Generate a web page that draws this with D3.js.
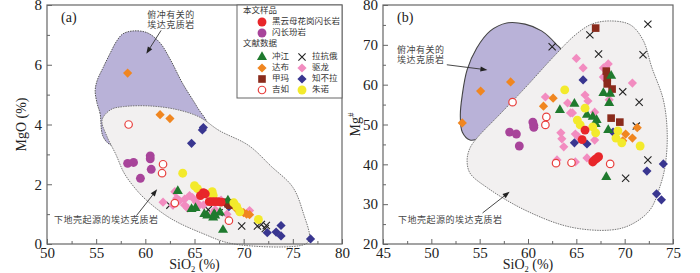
<!DOCTYPE html>
<meta charset="utf-8">
<style>
body { margin: 0; background: #fff; }
.tick text, .num { font: 15px "Liberation Serif", "Times New Roman", serif; fill: #222; }
.title { font: 14px "Liberation Serif", "Times New Roman", serif; fill: #222; }
.cn { font: 9px "Noto Sans CJK SC", sans-serif; fill: #444; letter-spacing: 0.5px; }
.leg { font: 8.5px "Noto Sans CJK SC", sans-serif; fill: #333; }
</style>
<svg width="700" height="273"></svg>
<script src="https://d3js.org/d3.v7.min.js"></script>
<script>

// ---- data: panel (a) SiO2 vs MgO ----
var a_red = [[65.6,1.62],[65.9,1.72],[66.1,1.68],[66.5,1.42],[66.8,1.42],[67.1,1.42],[67.4,1.42],[67.7,1.4]];
var a_mag = [[58.2,2.7],[58.8,2.73],[60.5,2.95],[60.5,2.85],[60.6,2.5],[59.5,2.2]];
var a_green = [[63.3,1.77],[64.7,1.17],[65.1,1.2],[66.0,1.0],[66.3,0.95],[66.9,0.88],[67.1,0.95],[67.6,1.05],[67.9,0.47],[68.4,1.45],[67.0,1.0]];
var a_orange = [[58.2,5.72],[61.5,4.33],[62.5,4.2],[69.2,1.2],[69.6,1.12],[70.0,1.05],[70.3,1.0],[70.6,0.98]];
var a_brown = [[68.1,1.4],[68.4,1.35],[68.6,1.3],[68.8,1.38]];
var a_open = [[58.3,4.0],[61.8,2.67],[61.7,2.37],[63.0,1.37],[68.5,0.78]];
var a_x = [[62.5,1.3],[66.4,1.15],[67.5,1.05],[69.8,0.6],[71.4,0.6],[71.8,0.65],[72.3,0.62],[72.2,0.52]];
var a_pink = [[61.8,1.4],[63.0,1.75],[63.2,1.53],[63.5,1.45],[64.0,1.5],[64.3,1.2],[64.5,1.62],[64.8,1.55],[65.2,1.4],[65.5,1.3],[65.9,1.3],[66.9,1.05],[67.1,1.15],[67.7,1.47],[68.3,1.0],[70.6,1.12],[62.8,1.3],[64.0,1.3]];
var a_navy = [[65.9,3.9],[65.8,3.82],[64.7,3.37],[68.5,1.25],[72.4,0.38],[73.3,0.4],[73.8,0.62],[73.8,0.27],[76.8,0.17]];
var a_yellow = [[63.8,2.37],[65.0,1.95],[65.3,1.85],[66.8,1.75],[66.9,1.63],[69.0,1.38],[69.3,1.25],[69.6,1.08],[71.5,0.82]];

// fields (a)
var a_subd = [[55.7,3.6],[55.4,4.37],[55.1,4.7],[54.9,5.13],[55.1,5.47],[55.7,5.9],[56.4,6.37],[57.1,6.8],[57.7,7.03],[58.7,7.13],[60.2,7.07],[61.5,6.73],[62.5,6.2],[63.8,5.37],[65.3,4.57],[66.3,3.97],[65,3.5],[60,3.4],[56.6,3.3]];
var a_lc = [[55.6,4.15],[56.5,4.5],[57.8,4.6],[60.5,4.62],[63.2,4.5],[65.5,4.25],[67.5,3.8],[70.5,3.3],[72.8,2.6],[75.0,1.9],[76.1,1.0],[76.7,0.2],[76.3,0.0],[69,0.0],[65.7,0.37],[62.5,0.87],[60.0,1.5],[58.7,1.97],[57.8,2.4],[57.0,3.0],[56.1,3.6]];

// ---- data: panel (b) SiO2 vs Mg# ----
var b_red = [[65.9,48.6],[65.6,46.2],[66.7,40.6],[66.9,41.1],[67.1,41.5],[67.3,41.9]];
var b_mag = [[60.5,50.6],[60.6,49.8],[60.6,49.3],[58.1,48.1],[58.8,47.6],[59.1,44.6]];
var b_green = [[63.3,53.6],[64.8,55.2],[66.1,52.4],[66.7,51.9],[67.1,51.1],[67.0,50.1],[68.3,48.6],[68.1,36.8],[68.6,62.2],[67.8,57.9],[68.5,57.7],[68.4,55.4]];
var b_orange = [[53.2,50.4],[55.1,58.4],[58.2,60.7],[62.6,56.6],[61.6,54.6],[70.1,47.6],[70.8,46.6],[69.8,45.9],[71.3,49.2]];
var b_brown = [[67.0,74.2],[68.1,63.4],[68.2,61.7],[68.2,60.2],[68.7,58.9],[68.6,51.6],[69.5,50.6]];
var b_open = [[58.4,55.6],[61.9,51.9],[61.8,49.9],[62.9,40.3],[64.5,40.4],[68.5,40.1]];
var b_x = [[62.5,69.5],[66.4,72.5],[72.4,75.2],[67.3,67.7],[71.9,67.5],[69.8,58.2],[71.5,55.6],[71.2,49.6],[72.4,41.1],[70.1,36.5]];
var b_pink = [[61.8,56.9],[64.1,55.4],[64.4,52.9],[63.4,47.9],[63.5,46.4],[63.7,44.4],[63.0,41.1],[65.0,66.6],[65.7,64.2],[68.3,65.2],[67.8,64.2],[67.8,61.9],[70.8,60.4],[65.9,57.4],[66.2,55.9],[68.4,56.2],[64.6,52.9],[66.9,53.1],[64.9,47.6],[65.2,46.9],[66.9,46.1],[66.1,41.6],[64.9,40.6]];
var b_navy = [[65.7,61.2],[64.8,45.4],[66.1,45.1],[68.8,48.1],[74.0,40.1],[72.3,38.3],[73.3,32.6],[73.8,31.1]];
var b_yellow = [[63.8,58.7],[65.9,54.1],[65.1,51.1],[65.4,49.9],[66.7,49.4],[67.0,47.9],[69.3,48.4],[69.1,46.6],[69.7,45.4],[71.6,44.6]];

// fields (b)
var b_subd = [[57.8,75.5],[59.7,75.2],[61.4,73.5],[62.9,70.2],[63.5,68.2],[60.2,56.2],[55.0,46.6],[54.0,46.1],[53.2,48.1],[53.0,52.4],[53.2,57.4],[53.7,63.7],[54.7,69.2],[56.1,73.5]];
var b_lc = [[54.72,46.6],[57.1,52.6],[59.7,59.2],[62.6,66.9],[64.9,72.5],[66.6,75.2],[68.5,76.0],[70.6,75.0],[71.9,71.2],[72.8,64.4],[74.0,56.2],[74.4,47.9],[74.2,39.8],[73.7,34.8],[72.6,28.5],[70.6,24.8],[68.5,23.5],[64.3,24.3],[59.7,28.5],[55.8,34.1],[54.0,37.8],[53.7,41.1],[54.0,44.1]];

var legendGroups = [
  {name: "黑云母花岗闪长岩", key: "red"}, {name: "闪长玢岩", key: "mag"},
  {name: "冲江", key: "green"}, {name: "拉抗俄", key: "x"},
  {name: "达布", key: "orange"}, {name: "驱龙", key: "pink"},
  {name: "甲玛", key: "brown"}, {name: "知不拉", key: "navy"},
  {name: "吉如", key: "open"}, {name: "朱诺", key: "yellow"}
];

var style = {
  red:    {shape: "circle", fill: "#e8262a"},
  mag:    {shape: "circle", fill: "#a8449a"},
  green:  {shape: "triangle", fill: "#1f7a2e"},
  orange: {shape: "diamond", fill: "#f08620"},
  brown:  {shape: "square", fill: "#8a2b1c"},
  open:   {shape: "open", fill: "#fff", stroke: "#e8403e"},
  x:      {shape: "x", stroke: "#222"},
  pink:   {shape: "diamond", fill: "#f28cc0"},
  navy:   {shape: "diamond", fill: "#393690"},
  yellow: {shape: "circle", fill: "#f3ea2c"}
};

var svg = d3.select("svg");

function symbolPath(shape) {
  if (shape === "circle" || shape === "open") return d3.symbol(d3.symbolCircle, 62)();
  if (shape === "triangle") return d3.symbol(d3.symbolTriangle, 44)();
  if (shape === "square") return d3.symbol(d3.symbolSquare, 58)();
  if (shape === "diamond") return "M0,-4.6L4.6,0L0,4.6L-4.6,0Z";
  return "M-3.6,-3.6L3.6,3.6M-3.6,3.6L3.6,-3.6";
}

function drawMark(g, key, x, y) {
  var s = style[key];
  var p = g.append("path").attr("d", symbolPath(s.shape))
    .attr("transform", "translate(" + x + "," + y + ")");
  if (s.shape === "x") p.attr("fill", "none").attr("stroke", s.stroke).attr("stroke-width", 1.1);
  else if (s.shape === "open") p.attr("d", d3.symbol(d3.symbolCircle, 44)()).attr("fill", "#fff").attr("stroke", s.stroke).attr("stroke-width", 1.2);
  else p.attr("fill", s.fill);
}

function panel(opt) {
  var x = opt.x, y = opt.y;
  var g = svg.append("g");

  var area = d3.line().x(function(d) { return x(d[0]); }).y(function(d) { return y(d[1]); })
    .curve(d3.curveCatmullRomClosed.alpha(0.5));

  g.append("path").datum(opt.subd).attr("d", area)
    .attr("fill", "#b9b2d8").attr("stroke", opt.subdStroke)
    .attr("stroke-width", opt.subdDash ? 1 : 1.1)
    .attr("stroke-dasharray", opt.subdDash ? "1.5,1" : null);
  g.append("path").datum(opt.lc).attr("d", area)
    .attr("fill", "#f2f0f0").attr("stroke", "#777")
    .attr("stroke-width", 1).attr("stroke-dasharray", "1.5,1");

  // points, drawn back to front
  var order = ["x", "pink", "navy", "orange", "brown", "green", "yellow", "open", "mag", "red"];
  order.forEach(function(k) {
    opt.data[k].forEach(function(d) { drawMark(g, k, x(d[0]), y(d[1])); });
  });

  // frame
  var x0 = x.range()[0], x1 = x.range()[1], y0 = y.range()[1], y1 = y.range()[0];
  g.append("rect").attr("x", x0).attr("y", y0).attr("width", x1 - x0).attr("height", y1 - y0)
    .attr("fill", "none").attr("stroke", "#666").attr("stroke-width", 1.2);

  // axes with inward ticks
  g.append("g").attr("transform", "translate(0," + y1 + ")")
    .call(d3.axisBottom(x).tickValues(opt.xTicks).tickSizeInner(-5).tickSizeOuter(0).tickPadding(3));
  g.append("g").attr("transform", "translate(0," + y1 + ")")
    .call(d3.axisBottom(x).tickValues(opt.xMinor).tickSizeInner(-3).tickSizeOuter(0).tickFormat(""));
  g.append("g").attr("transform", "translate(" + x0 + ",0)")
    .call(d3.axisLeft(y).tickValues(opt.yTicks).tickSizeInner(-5).tickSizeOuter(0).tickPadding(5));
  g.append("g").attr("transform", "translate(" + x0 + ",0)")
    .call(d3.axisLeft(y).tickValues(opt.yMinor).tickSizeInner(-3).tickSizeOuter(0).tickFormat(""));
  g.selectAll(".domain").remove();
  g.selectAll(".tick line").attr("stroke", "#666");

  // x title
  var xt = g.append("text").attr("class", "title").attr("text-anchor", "middle")
    .attr("x", (x0 + x1) / 2).attr("y", 269);
  xt.append("tspan").text("SiO");
  xt.append("tspan").text("2").attr("font-size", "8.5px").attr("dy", 2.5);
  xt.append("tspan").text(" (%)").attr("dy", -2.5);

  // y title
  var yt = g.append("text").attr("class", "title").attr("text-anchor", "middle")
    .attr("transform", "translate(" + opt.yTitleX + "," + ((y0 + y1) / 2) + ") rotate(-90)");
  opt.yTitle(yt);

  g.append("text").attr("class", "num").style("font-size", "14px")
    .attr("x", x0 + 14).attr("y", 22).text(opt.label);

  // annotations
  opt.notes.forEach(function(n) {
    n.lines.forEach(function(t, i) {
      g.append("text").attr("class", "cn").attr("x", x(n.at[0])).attr("y", y(n.at[1]) + i * 10)
        .attr("dominant-baseline", "middle").text(t);
    });
    var p0 = [x(n.from[0]), y(n.from[1])], p1 = [x(n.to[0]), y(n.to[1])];
    var ang = Math.atan2(p1[1] - p0[1], p1[0] - p0[0]);
    g.append("line").attr("x1", p0[0]).attr("y1", p0[1])
      .attr("x2", p1[0] - 5 * Math.cos(ang)).attr("y2", p1[1] - 5 * Math.sin(ang))
      .attr("stroke", "#333").attr("stroke-width", 0.9);
    g.append("path").attr("d", "M0,0L-7,-2.6L-7,2.6Z").attr("fill", "#222")
      .attr("transform", "translate(" + p1[0] + "," + p1[1] + ") rotate(" + (ang * 180 / Math.PI) + ")");
  });
  return g;
}

var xa = d3.scaleLinear().domain([50, 80]).range([47, 342]);
var ya = d3.scaleLinear().domain([0, 8]).range([244, 5]);
var xb = d3.scaleLinear().domain([45, 75]).range([383, 673]);
var yb = d3.scaleLinear().domain([20, 80]).range([244, 5]);

panel({
  x: xa, y: ya, label: "(a)",
  subd: a_subd, lc: a_lc, subdStroke: "#555", subdDash: true,
  data: {red: a_red, mag: a_mag, green: a_green, orange: a_orange, brown: a_brown, open: a_open, x: a_x, pink: a_pink, navy: a_navy, yellow: a_yellow},
  xTicks: [50, 55, 60, 65, 70, 75, 80], xMinor: [52.5, 57.5, 62.5, 67.5, 72.5, 77.5],
  yTicks: [0, 2, 4, 6, 8], yMinor: [1, 3, 5, 7],
  yTitleX: 26,
  yTitle: function(t) { t.text("MgO (%)"); },
  notes: [
    {lines: ["俯冲有关的", "埃达克质岩"], at: [60.2, 7.65], from: [61.6, 7.15], to: [60.1, 6.37]},
    {lines: ["下地壳起源的埃达克质岩"], at: [50.7, 0.77], from: [59.1, 0.95], to: [61.2, 1.83]}
  ]
});

panel({
  x: xb, y: yb, label: "(b)",
  subd: b_subd, lc: b_lc, subdStroke: "#444", subdDash: false,
  data: {red: b_red, mag: b_mag, green: b_green, orange: b_orange, brown: b_brown, open: b_open, x: b_x, pink: b_pink, navy: b_navy, yellow: b_yellow},
  xTicks: [45, 50, 55, 60, 65, 70, 75], xMinor: [47.5, 52.5, 57.5, 62.5, 67.5, 72.5],
  yTicks: [20, 30, 40, 50, 60, 70, 80], yMinor: [25, 35, 45, 55, 65, 75],
  yTitleX: 360,
  yTitle: function(t) { t.text("Mg"); t.append("tspan").text("#").attr("font-size", "9px").attr("dy", -6); },
  notes: [
    {lines: ["俯冲有关的", "埃达克质岩"], at: [46.45, 68.5], from: [51.6, 65.0], to: [55.8, 63.7]},
    {lines: ["下地壳起源的埃达克质岩"], at: [46.55, 26.0], from: [55.3, 27.8], to: [58.1, 33.1]}
  ]
});

// legend inside panel (a)
var lg = svg.append("g");
lg.append("rect").attr("x", 237).attr("y", 5).attr("width", 105).attr("height", 93)
  .attr("fill", "#fff").attr("stroke", "#666").attr("stroke-width", 1);
lg.append("text").attr("class", "leg").attr("x", 243).attr("y", 11).attr("dominant-baseline", "middle").text("本文样品");
lg.append("text").attr("class", "leg").attr("x", 243).attr("y", 44).attr("dominant-baseline", "middle").text("文献数据");
var rowY = [22, 33, 57, 57, 68, 68, 79, 79, 90, 90];
legendGroups.forEach(function(d, i) {
  var col = (i >= 2 && i % 2 === 1) ? 1 : 0;
  var mx = col ? 302 : 262;
  drawMark(lg, d.key, mx, rowY[i]);
  lg.append("text").attr("class", "leg").attr("x", mx + 10).attr("y", rowY[i])
    .attr("dominant-baseline", "middle").text(d.name);
});

</script>
